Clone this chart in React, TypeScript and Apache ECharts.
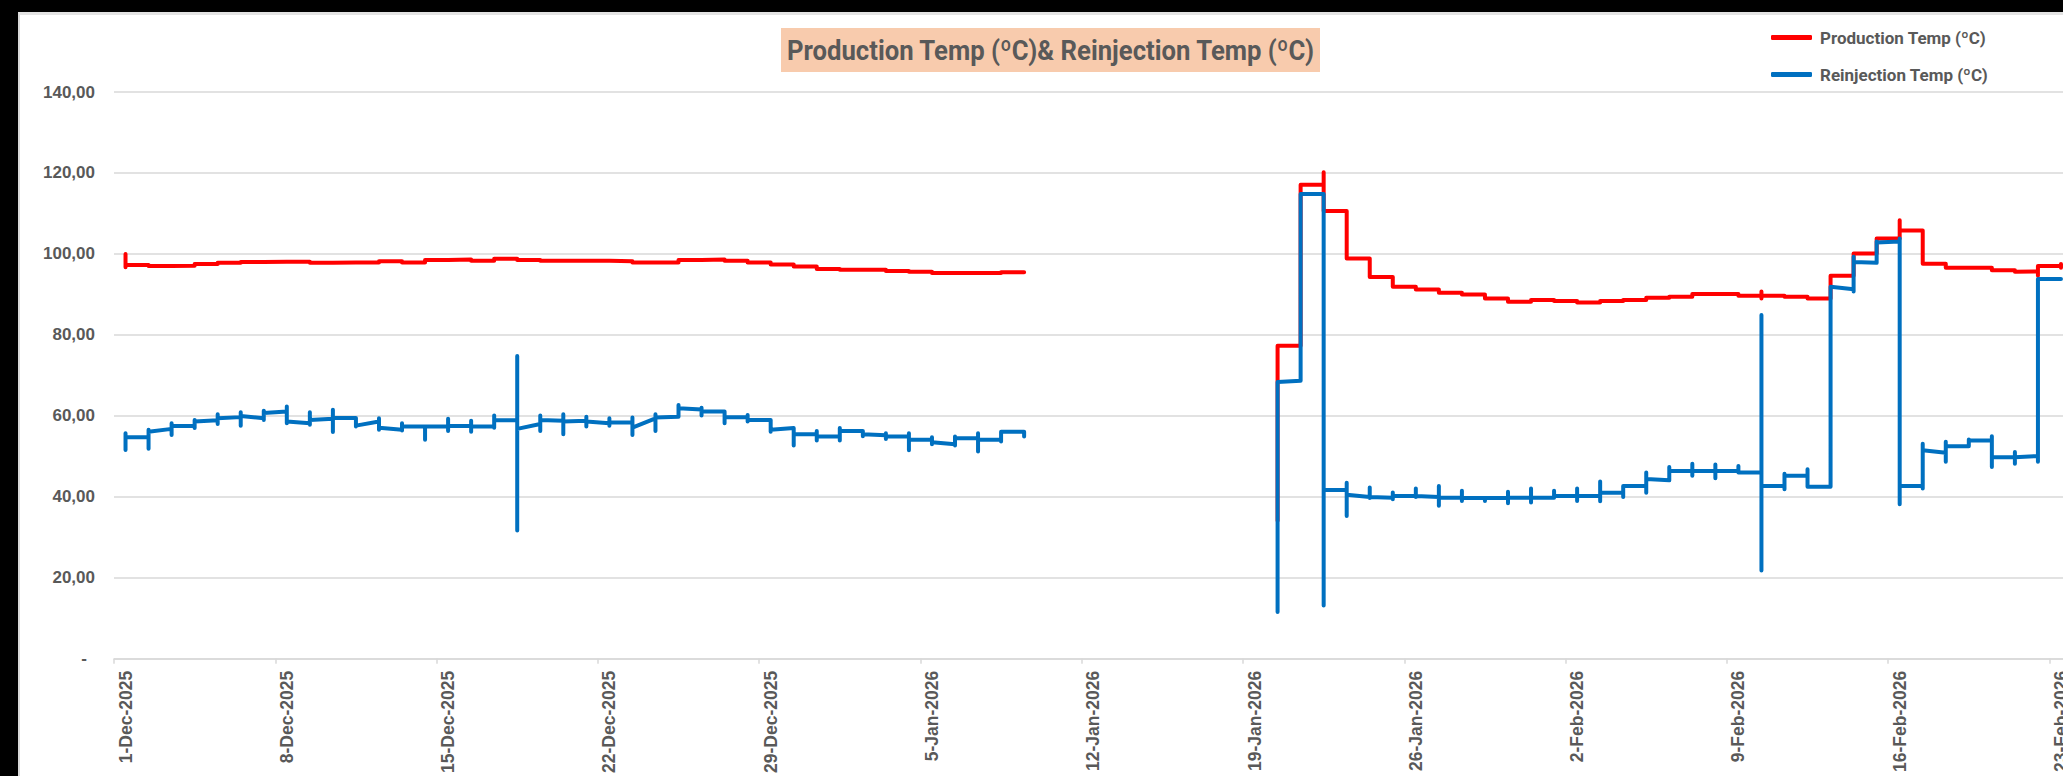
import React, { useEffect, useRef } from 'react';
import * as echarts from 'echarts';

// ---------- data ----------
const axisStart = [2025, 12, 1];
const axisDayCount = 85;
const monthNames = ['Jan', 'Feb', 'Mar', 'Apr', 'May', 'Jun', 'Jul', 'Aug', 'Sep', 'Oct', 'Nov', 'Dec'];

const yMin = 0;
const yMax = 140;
const yInterval = 20;

const titleText = 'Production Temp (ºC)& Reinjection Temp (ºC)';
const productionName = 'Production Temp (ºC)';
const reinjectionName = 'Reinjection Temp (ºC)';

// reading periods (inclusive): 1-Dec-2025 .. 9-Jan-2026 and 20-Jan-2026 .. 23-Feb-2026
const readingPeriods = [
  ['2025-12-01', '2026-01-09'],
  ['2026-01-20', '2026-02-23'],
];

// several readings per day, in time order (Excel plots all of a day's readings on the same date)
const productionPeriod1: number[][] = [
  [100, 96.7, 97.3], [97.3, 97.0], [97.0, 97.1], [97.1, 97.5], [97.5, 97.8],
  [97.8, 98.0], [98.0, 98.1], [98.1], [98.1, 97.8], [97.8, 97.9],
  [97.9], [97.9, 98.2], [98.2, 97.9], [97.9, 98.5], [98.5, 98.6],
  [98.6, 98.3], [98.3, 98.8], [98.8, 98.5], [98.5, 98.3], [98.3],
  [98.3], [98.3, 98.2], [98.2, 97.9], [97.9], [97.9, 98.5],
  [98.5, 98.6], [98.6, 98.3], [98.3, 97.9], [97.9, 97.4], [97.4, 96.9],
  [96.9, 96.3], [96.3, 96.1], [96.1], [96.1, 95.8], [95.8, 95.6],
  [95.6, 95.3], [95.3], [95.3], [95.3, 95.5], [95.5],
];
const productionPeriod2: number[][] = [
  [34.1, 68.9, 77.3], [77.3, 117.1], [117.1, 120.2, 110.6], [110.6, 98.9], [98.9, 94.3],
  [94.3, 91.9], [91.9, 91.2], [91.2, 90.4], [90.4, 90.0], [90.0, 89.0],
  [89.0, 88.2], [88.2, 88.6], [88.6, 88.4], [88.4, 88.0], [88.0, 88.4],
  [88.4, 88.6], [88.6, 89.2], [89.2, 89.4], [89.4, 90.1], [90.1],
  [90.1, 89.7], [89.7, 90.7, 89.0, 89.7], [89.7, 89.4], [89.4, 89.0], [89.0, 94.6],
  [94.6, 100.1], [100.1, 103.8], [103.8, 108.3, 105.8], [105.8, 97.6], [97.6, 96.6],
  [96.6], [96.6, 96.0], [96.0, 95.6], [95.7, 94.6, 97.0], [97.0, 97.5, 96.6, 97.0],
];
const reinjectionPeriod1: number[][] = [
  [55.7, 51.6, 54.7], [54.7, 51.9, 56.6, 56.1], [56.8, 58.2, 55.3, 57.6], [57.5, 59.0, 57.0, 58.6], [58.9, 60.4, 58.0, 59.4],
  [59.7, 60.9, 57.6, 60.0], [59.4, 61.3, 59.0, 60.7], [61.1, 62.3, 58.2, 58.6], [58.2, 60.9, 57.8, 59.0], [59.3, 61.5, 56.0, 59.5],
  [59.5, 57.4, 57.6], [58.6, 59.4, 56.6, 57.1], [56.6, 58.2, 56.4, 57.4], [57.4, 54.1, 57.4], [57.4, 59.3, 56.3, 57.5],
  [57.5, 58.8, 56.1, 57.4], [57.4, 60.1, 57.1, 58.9], [58.9, 74.8, 31.7, 56.8], [58.0, 60.1, 56.3, 59.0], [58.8, 60.4, 55.5, 58.6],
  [58.8, 59.8, 57.4, 58.6], [58.2, 59.4, 57.6, 58.4], [58.4, 59.6, 55.3, 57.1], [59.4, 60.4, 56.3, 59.6], [59.8, 62.7, 61.9],
  [61.6, 62.0, 60.1, 61.1], [61.1, 58.2, 59.7], [59.7, 60.2, 58.6, 59.0], [59.0, 56.1, 56.6], [57.0, 52.7, 55.5],
  [55.5, 56.3, 53.9, 54.9], [54.9, 57.0, 53.9, 56.3], [56.3, 55.0, 55.5], [55.2, 55.7, 54.3, 54.9], [54.9, 55.7, 51.5, 54.1],
  [54.1, 54.7, 53.0, 53.5], [53.0, 54.9, 52.7, 54.5], [54.5, 55.7, 51.2, 54.1], [54.1, 53.7, 56.1], [56.1, 54.9, 55.7],
];
const reinjectionPeriod2: number[][] = [
  [11.6, 68.4], [68.7, 114.8], [114.8, 13.2, 41.7], [41.7, 43.5, 35.3, 40.5], [40.0, 42.3, 39.7, 40.0],
  [39.8, 41.1, 39.4, 40.2], [40.2, 42.1, 40.0, 40.2], [40.0, 42.7, 37.8, 39.8], [39.8, 41.5, 39.0, 39.7], [39.7, 39.0, 39.7],
  [39.7, 41.3, 38.4, 39.8], [39.8, 42.1, 38.6, 39.8], [39.8, 41.5, 40.2], [40.2, 42.1, 39.0, 40.2], [40.2, 43.8, 38.9, 41.0],
  [41.0, 40.0, 42.7], [42.7, 46.0, 41.0, 44.4], [44.1, 47.4, 46.4], [46.4, 48.2, 45.2, 46.4], [46.4, 48.0, 44.6, 46.4],
  [46.4, 47.6, 46.0], [46.0, 84.9, 21.8, 42.7], [42.7, 41.9, 45.7, 45.2], [45.2, 46.8, 42.5], [42.5, 91.9],
  [91.3, 90.7, 99.3, 98.0], [97.8, 103.1, 102.8], [103.1, 103.8, 38.2, 42.7], [42.7, 42.1, 53.1, 51.5], [50.9, 53.6, 48.7, 52.5],
  [52.5, 54.2, 53.9], [53.9, 55.0, 47.4, 49.8], [49.8, 51.1, 48.2, 49.8], [50.1, 48.7, 93.8], [93.8],
];

// ---------- helpers ----------
const DAY = 86400000;
const startUtc = Date.UTC(axisStart[0], axisStart[1] - 1, axisStart[2]);
const dayIndex = (iso: string) => {
  const [y, m, d] = iso.split('-').map(Number);
  return Math.round((Date.UTC(y, m - 1, d) - startUtc) / DAY);
};
const categories: string[] = Array.from({ length: axisDayCount }, (_, i) => {
  const dt = new Date(startUtc + i * DAY);
  return `${dt.getUTCDate()}-${monthNames[dt.getUTCMonth()]}-${dt.getUTCFullYear()}`;
});

const buildSeries = (periods: number[][][]) => {
  const out: (number | null)[][] = [];
  readingPeriods.forEach((p, pi) => {
    const first = dayIndex(p[0]);
    periods[pi].forEach((readings, k) => {
      readings.forEach((v) => out.push([first + k, v]));
    });
    if (pi < readingPeriods.length - 1) {
      const last = dayIndex(p[1]);
      out.push([last + 1, null]);
    }
  });
  return out;
};

const productionData = buildSeries([productionPeriod1, productionPeriod2]);
const reinjectionData = buildSeries([reinjectionPeriod1, reinjectionPeriod2]);

const titleFontFamily = 'Roboto, "Liberation Sans", sans-serif';
const legendFont = 'Roboto, "Liberation Sans", sans-serif';
const axisFont = '"Liberation Sans", Arial, sans-serif';
const textGray = '#595959';
const gridGray = '#D9D9D9';

const titleBox = { x: 761, y: 13, width: 539, height: 44 };
const titleTextWidth = 529;
const titleFont = `bold 28px ${titleFontFamily}`;

const measureWidth = (text: string, font: string) => {
  const c = document.createElement('canvas').getContext('2d');
  if (!c) return text.length * 14;
  c.font = font;
  return c.measureText(text).width;
};

export default function App() {
  const ref = useRef<HTMLDivElement>(null);
  useEffect(() => {
    if (!ref.current) return;
    const chart = echarts.init(ref.current, null, { renderer: 'svg' });
    const natural = measureWidth(titleText, titleFont);
    const sx = natural > 0 ? titleTextWidth / natural : 1;
    chart.setOption({
      animation: false,
      backgroundColor: '#ffffff',
      grid: { left: 94, top: 77, right: 7.5, bottom: 113, containLabel: false },
      graphic: [
        {
          type: 'rect',
          shape: { ...titleBox },
          style: { fill: '#F8CBAD' },
          silent: true,
        },
        {
          type: 'text',
          x: titleBox.x + titleBox.width / 2,
          y: titleBox.y + titleBox.height / 2 + 1,
          scaleX: sx,
          style: {
            text: titleText,
            fill: textGray,
            font: titleFont,
            textAlign: 'center',
            textVerticalAlign: 'middle',
          },
          silent: true,
        },
      ],
      legend: {
        orient: 'vertical',
        left: 1751,
        top: 14,
        padding: 0,
        itemWidth: 41,
        itemHeight: 5,
        itemGap: 20,
        icon: 'roundRect',
        textStyle: {
          color: textGray,
          fontSize: 17,
          lineHeight: 16,
          fontWeight: 'bold',
          fontFamily: legendFont,
          padding: [0, 0, 0, 3],
        },
        data: [
          { name: productionName, itemStyle: { color: '#FF0000' } },
          { name: reinjectionName, itemStyle: { color: '#0070C0' } },
        ],
      },
      xAxis: {
        type: 'category',
        data: categories,
        boundaryGap: true,
        axisLine: { show: true, lineStyle: { color: gridGray, width: 1.5 } },
        axisTick: { show: true, interval: 6, length: 5, lineStyle: { color: gridGray, width: 1.5 } },
        axisLabel: {
          interval: 6,
          rotate: 90,
          margin: 12,
          color: textGray,
          fontSize: 17.5,
          fontWeight: 'bold',
          fontFamily: axisFont,
        },
        splitLine: { show: false },
      },
      yAxis: {
        type: 'value',
        min: yMin,
        max: yMax,
        interval: yInterval,
        axisLine: { show: false },
        axisTick: { show: false },
        splitLine: { show: true, lineStyle: { color: gridGray, width: 1.5 } },
        axisLabel: {
          margin: 19,
          color: textGray,
          fontSize: 17,
          fontWeight: 'bold',
          fontFamily: axisFont,
          formatter: (v: number) => (v === 0 ? '{z|-}' : v.toFixed(2).replace('.', ',')),
          rich: {
            z: { color: textGray, fontSize: 17, fontWeight: 'bold', fontFamily: axisFont, padding: [0, 8, 0, 0] },
          },
        },
      },
      series: [
        {
          name: productionName,
          type: 'line',
          data: productionData,
          symbol: 'none',
          connectNulls: false,
          lineStyle: { color: '#FF0000', width: 4, cap: 'round', join: 'round' },
          itemStyle: { color: '#FF0000' },
        },
        {
          name: reinjectionName,
          type: 'line',
          data: reinjectionData,
          symbol: 'none',
          connectNulls: false,
          lineStyle: { color: '#0070C0', width: 4, cap: 'round', join: 'round' },
          itemStyle: { color: '#0070C0' },
        },
      ],
    });
    return () => chart.dispose();
  }, []);

  return (
    <div style={{ position: 'fixed', left: 0, top: 0, width: 2063, height: 776, background: '#000', overflow: 'hidden' }}>
      <div
        style={{
          position: 'absolute',
          left: 18,
          top: 12,
          width: 2100,
          height: 764,
          background: '#fff',
          borderLeft: '2px solid #d9d9d9',
          borderTop: '3px solid #e3e3e3',
          boxSizing: 'border-box',
        }}
      >
        <div ref={ref} style={{ position: 'absolute', left: 0, top: 0, width: 2060, height: 761 }} />
      </div>
    </div>
  );
}
